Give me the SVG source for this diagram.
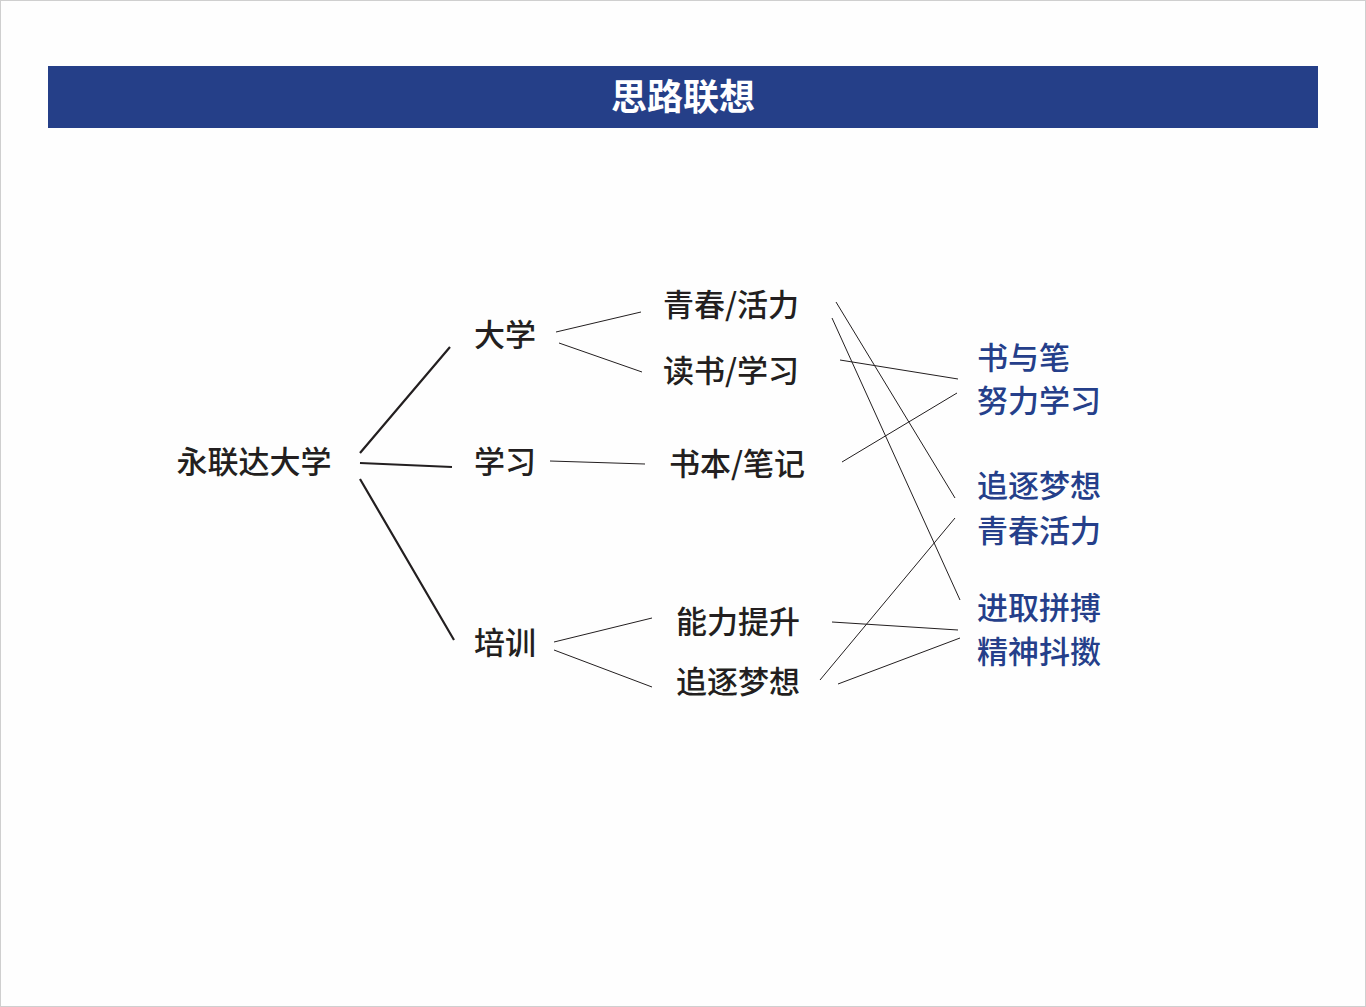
<svg xmlns="http://www.w3.org/2000/svg" width="1366" height="1007" viewBox="0 0 1366 1007">
<style>
text{font-family:"Noto Sans CJK SC","Noto Sans",sans-serif;font-weight:500}
.k{fill:#231f20;font-size:31px;text-anchor:middle}
.b{fill:#253f8a;font-size:31px}
.t{stroke:#231f20;stroke-width:2.2;fill:none}
.n{stroke:#231f20;stroke-width:1;fill:none}
</style>
<rect x="0.5" y="0.5" width="1365" height="1006" fill="#fefefe" stroke="#cfcfcf"/>
<g id="title"><rect x="48" y="66" width="1270" height="62" fill="#253f88"/><text x="683" y="110" fill="#fff" font-size="36" text-anchor="middle" style="font-weight:700">思路联想</text></g>
<g id="connectors">
<path class="t" d="M360 453L450 347M360 463L452 467M360 479L454 640"/>
<path class="n" d="M556 332L641 312M559 343L642 372M550 461L645 464M554 642L652 618M554 650L652 687"/>
<path class="n" d="M836 302L955 498M832 318L960 600M840 360L958 379M842 462L957 393M832 622L958 630M820 680L955 518M838 684L960 638"/>
</g>
<g id="n0"><text class="k" x="254" y="473">永联达大学</text></g>
<g id="n1"><text class="k" x="505" y="346">大学</text></g>
<g id="n2"><text class="k" x="505" y="473">学习</text></g>
<g id="n3"><text class="k" x="505" y="654">培训</text></g>
<g id="n4"><text class="k" x="731" y="316">青春/活力</text></g>
<g id="n5"><text class="k" x="731" y="382">读书/学习</text></g>
<g id="n6"><text class="k" x="737" y="475">书本/笔记</text></g>
<g id="n7"><text class="k" x="738" y="633">能力提升</text></g>
<g id="n8"><text class="k" x="738" y="693">追逐梦想</text></g>
<g id="r1"><text class="b" x="977" y="369">书与笔</text><text class="b" x="977" y="412">努力学习</text></g>
<g id="r2"><text class="b" x="977" y="497">追逐梦想</text><text class="b" x="977" y="542">青春活力</text></g>
<g id="r3"><text class="b" x="977" y="619">进取拼搏</text><text class="b" x="977" y="663">精神抖擞</text></g>
</svg>
